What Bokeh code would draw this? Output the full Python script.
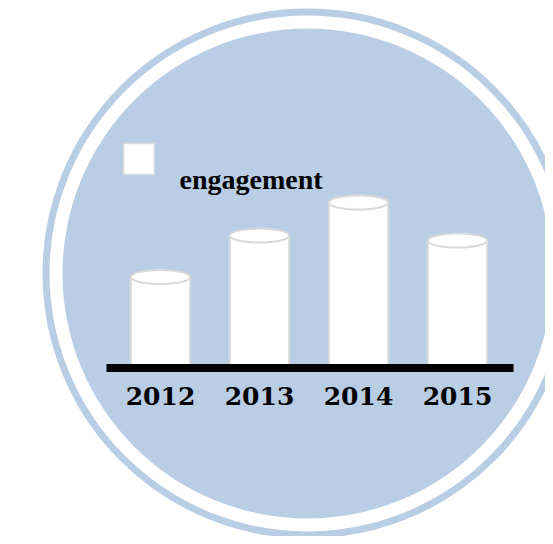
from bokeh.plotting import figure
from bokeh.models import Range1d
from bokeh.core.properties import value
from bokeh.embed import file_html
from bokeh.resources import INLINE

# ---- data ----
years = ["2012", "2013", "2014", "2015"]
engagement = [2.75, 4.0, 5.0, 3.85]
series_name = "engagement"

# ---- layout constants (pixels) ----
W, H = 545, 536
X0PX = 160.0            # px of first category centre
XS = 99.0               # px per category step
BASE_PY = 367.5         # px from top of value 0
YS = 33.1               # px per value unit

BLUE = "#b9cde5"
GREY = "#d9d9d9"

def sx(px):
    return (px - X0PX) / XS

def sy(py):
    return (BASE_PY - py) / YS

p = figure(width=W, height=H, output_backend="svg", toolbar_location=None,
           x_range=Range1d(sx(0), sx(W)),
           y_range=Range1d(sy(H), sy(0)),
           min_border=0)
p.xaxis.visible = False
p.yaxis.visible = False
p.grid.visible = False
p.outline_line_color = None
p.background_fill_color = "white"
p.border_fill_color = "white"

# decorative disc and ring
cx, cy = sx(307), sy(273)
p.circle(x=[cx], y=[cy], radius=245, radius_units="screen",
         fill_color=BLUE, line_color=None)
p.circle(x=[cx], y=[cy], radius=261.5, radius_units="screen",
         fill_color=None, line_color=BLUE, line_width=7)

# cylinders
xs = list(range(len(years)))
p.vbar(x=xs, top=engagement, bottom=0, width=0.6,
       fill_color="white", line_color=GREY, line_width=2)
p.ellipse(x=xs, y=engagement, width=0.6, height=14, height_units="screen",
          fill_color="white", line_color=GREY, line_width=2)

# baseline
p.segment(x0=[sx(106)], y0=[0], x1=[sx(513)], y1=[0],
          line_color="black", line_width=8, line_cap="butt")

# category labels
p.text(x=xs, y=[sy(395)] * len(years), text=years,
       text_align="center", text_baseline="middle",
       text_font=value("DejaVu Serif"), text_font_style="bold",
       text_font_size="25px", text_color="black")

# legend
p.rect(x=[sx(138.5)], y=[sy(158.5)], width=31, height=31,
       width_units="screen", height_units="screen",
       fill_color="white", line_color=GREY, line_width=1.5)
p.text(x=[sx(179)], y=[sy(179)], text=[series_name],
       text_align="left", text_baseline="middle",
       text_font=value("Liberation Serif"), text_font_style="bold",
       text_font_size="28px", text_color="black")

open("out.html", "w").write(file_html(p, INLINE))
